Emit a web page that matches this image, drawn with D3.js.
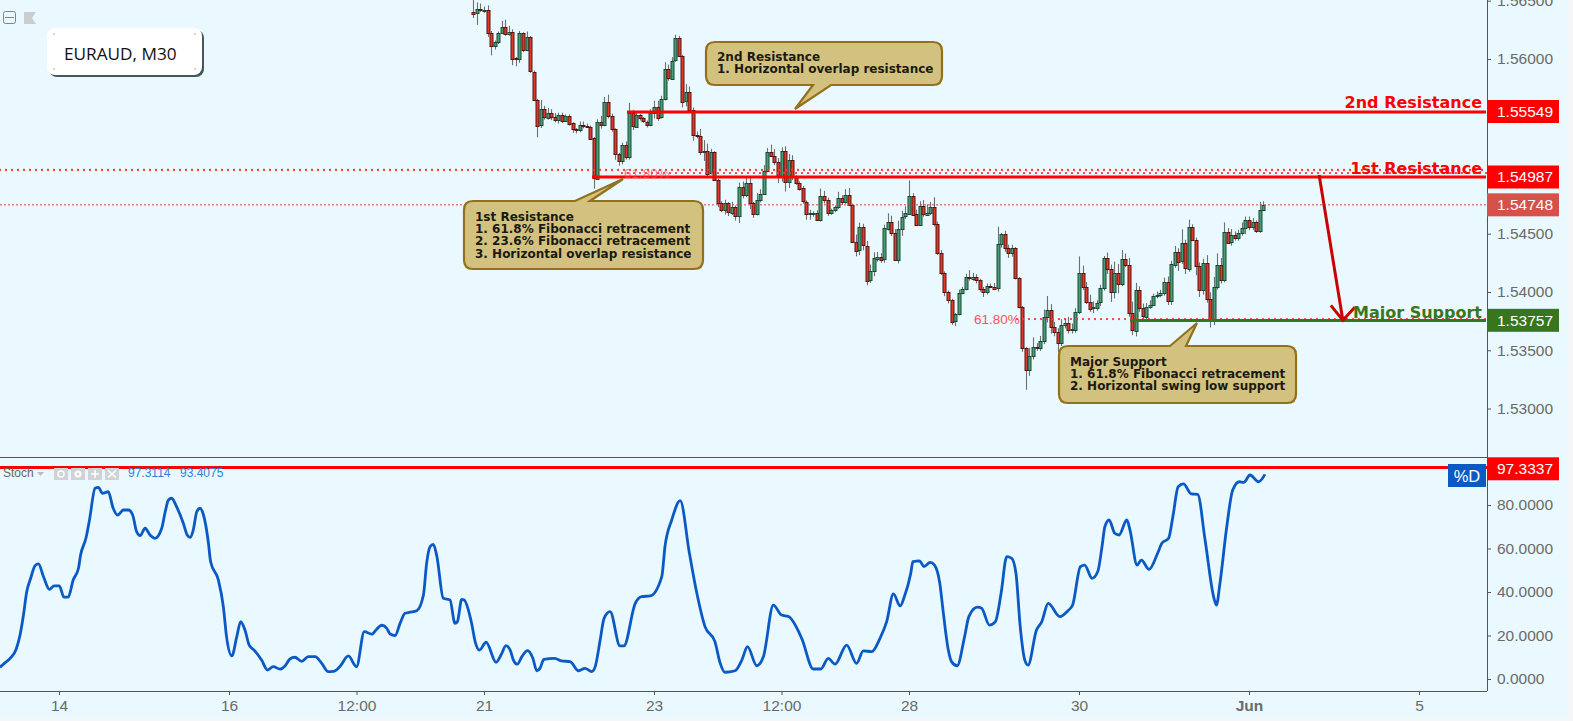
<!DOCTYPE html>
<html>
<head>
<meta charset="utf-8">
<script src="https://d3js.org/d3.v7.min.js"></script>
<style>
  html, body { margin: 0; padding: 0; background: #f4f6f7; overflow: hidden; }
  svg { display: block; }
  .axis text { font-family: "Liberation Sans", Arial, sans-serif; font-size: 15.5px; fill: #6a6a6a; }
  .axis path, .axis line { stroke: #555; }
  .note { font-family: "DejaVu Sans", sans-serif; font-size: 12px; font-weight: bold; fill: #1a1a12; }
  .levelName { font-family: "DejaVu Sans", sans-serif; font-size: 16px; font-weight: bold; text-anchor: end; }
  .tagText { font-family: "Liberation Sans", Arial, sans-serif; font-size: 15.5px; fill: #fff; dominant-baseline: central; }
</style>
</head>
<body>
<svg id="chart" width="1573" height="721"></svg>
<script>
// bars are M30, numbered from the "14" tick. first candle on screen is bar 117
const firstBar = 117;
const firstOpen = 1.56406;

const closes = [
  1.56392,1.56426,1.56414,1.56420,1.56220,1.56111,1.56149,1.56226,1.56277,1.56220,
  1.56234,1.56006,1.55997,1.56220,1.56077,1.56186,1.55891,1.55648,1.55428,1.55568,
  1.55499,1.55539,1.55505,1.55476,1.55519,1.55471,1.55514,1.55448,1.55396,1.55391,
  1.55433,1.55425,1.55419,1.55319,1.54976,1.55462,1.55433,1.55634,1.55511,1.55396,
  1.55185,1.55125,1.55262,1.55156,1.55534,1.55419,1.55519,1.55491,1.55462,1.55433,
  1.55539,1.55591,1.55499,1.55654,1.55912,1.55834,1.55986,1.56178,1.56026,1.55634,
  1.55714,1.55563,1.55348,1.55340,1.55205,1.55214,1.55019,1.55199,1.54962,1.54768,
  1.54705,1.54762,1.54682,1.54733,1.54653,1.54899,1.54833,1.54933,1.54762,1.54667,
  1.54790,1.54842,1.55039,1.55205,1.55168,1.55119,1.54996,1.55211,1.54942,1.55134,
  1.54991,1.54939,1.54890,1.54776,1.54670,1.54676,1.54682,1.54625,1.54828,1.54790,
  1.54682,1.54705,1.54733,1.54810,1.54776,1.54833,1.54748,1.54433,1.54356,1.54556,
  1.54399,1.54098,1.54176,1.54290,1.54304,1.54281,1.54547,1.54605,1.54510,1.54276,
  1.54542,1.54647,1.54676,1.54828,1.54667,1.54576,1.54739,1.54667,1.54682,1.54733,
  1.54584,1.54339,1.54167,1.54004,1.53932,1.53747,1.53809,1.53990,1.54024,1.54127,
  1.54118,1.54133,1.54104,1.54024,1.53998,1.54053,1.54047,1.54033,1.54410,1.54496,
  1.54376,1.54333,1.54376,1.54118,1.53870,1.53517,1.53331,1.53451,1.53531,1.53525,
  1.53583,1.53789,1.53846,1.53703,1.53660,1.53566,1.53717,1.53737,1.53674,1.53680,
  1.53831,1.54166,1.54046,1.53917,1.53860,1.53869,1.53909,1.54032,1.54289,1.54195,
  1.53995,1.54161,1.54069,1.54281,1.54232,1.53817,1.53669,1.54018,1.53860,1.53789,
  1.53875,1.53889,1.53966,1.53975,1.53989,1.54083,1.53918,1.54238,1.54346,1.54261,
  1.54418,1.54204,1.54561,1.54447,1.54224,1.54018,1.54246,1.53938,1.53746,1.54040,
  1.54232,1.54103,1.54518,1.54427,1.54490,1.54461,1.54504,1.54547,1.54618,1.54561,
  1.54604,1.54527,1.54704,1.54748
];

// wicks in pips above / below the body
const upWick = [
  10,6,5,3,4,2,1,1,5,6, 5,2,1,2,1,5,1,1,1,8, 3,4,3,3,2,2,1,1,1,1, 3,3,2,1,1,2,5,4,6,2,
  1,1,2,3,9,3,2,1,1,1, 3,5,5,3,6,4,3,3,2,1, 7,5,2,3,6,9,6,3,1,1, 1,3,1,4,1,4,5,6,6,1,
  6,4,5,3,6,6,3,3,4,5, 4,1,1,2,1,3,1,2,6,4, 2,1,1,5,2,5,6,1,6,4, 3,4,6,5,4,3,3,7,5,3,
  7,5,6,13,2,4,4,5,7,4, 8,2,2,1,1,1,1,3,2,3, 6,3,2,1,2,2,2,3,15,1, 3,3,3,1,1,1,1,7,8,3,
  4,6,12,5,4,3,5,4,5,5, 3,14,6,4,6,5,2,3,2,5, 4,10,8,8,5,6,10,6,3,4, 3,4,2,3,3,4,5,3,5,3,
  12,3,6,2,2,3,4,7,6,9, 10,6,8,3,5,3,3,5,3,3, 3,1,7,3
];
const downWick = [
  4,10,1,2,3,8,3,2,1,2, 2,6,6,3,2,1,1,1,10,2, 2,2,3,2,3,2,1,2,3,3, 2,2,1,1,9,1,3,1,2,2,
  5,4,3,2,2,3,1,2,1,2, 1,5,3,1,1,2,1,1,1,5, 4,2,5,2,3,8,3,1,1,4, 2,4,3,2,4,6,3,2,5,3,
  1,2,1,1,1,3,6,5,8,5, 3,2,2,2,5,5,3,1,2,3, 3,2,2,2,3,2,1,1,5,4, 4,4,2,4,3,3,3,2,3,1,
  3,6,2,1,1,1,1,2,1,2, 2,2,2,4,3,3,4,1,1,1, 2,2,3,2,4,2,1,1,3,3, 3,4,3,1,1,3,17,5,3,3,
  3,3,5,6,4,8,3,3,3,3, 3,2,3,2,3,4,3,3,2,4, 8,5,8,2,2,3,4,5,3,3, 2,2,1,2,2,2,3,3,3,8,
  2,5,3,1,8,6,4,3,5,3, 2,3,2,1,3,2,2,2,5,3, 3,2,2,1
];

// stochastic %D
const stochBars = [
  -16.7,-15.2,-13.8,-12.1,-11,-10.1,-9.1,-8,-6.8,-5.8,-4.4,-2.7,-1.4,0.1,1.4,2.6,4,5.5,6.1,7.6,
  8.6,10.2,11.1,12.3,13.9,15.3,16.5,18.2,19.6,20.8,21.9,22.9,24.3,25.7,27.1,29,29.9,30.9,31.8,33.2,
  35.1,36.2,37,37.9,38.9,39.8,40.8,42.2,42.8,45,46.4,47.3,48.8,50.2,51.3,52.5,53.7,55.1,57.2,58.9,
  60.5,62.4,63.8,65.2,66.6,68.5,70.4,72.3,74.2,76,77.5,79.3,81.7,84,86.2,88.3,89.7,91.1,92.5,93.5,
  94.9,96.3,97.7,99.1,101,102.9,103.8,104.8,105.7,106.7,108.5,110.4,111.8,112.5,113.7,114.4,116.5,117.5,118.7,120.6,
  123.4,124.8,126.2,127.4,128.3,129.4,130.7,132.3,133.8,134.9,135.8,136.9,140,141.9,144.3,146.7,148.5,150.4,151.4,152.8,
  153.9,155.6,158.4,159.5,162.7,164.5,166.9,170.2,171.1,173,175.4,178,180.1,182.4,185.2,186.7,188,190.9,192.8,194.4,
  197,198.9,201.7,204,206,209.7,213,215.1,217.2,219.1,222.4,225.2,227.1,229.5,231.8,233.7,235.6,237.5,238.7,240.5,
  241.1,243,244.2,246,247.2,248.7,249.6,251.1,252,253.6,255.7,256.9,259.3,260.5,262.7,264.4,266,267.6,269,270.2,
  271.4,272.7,273.6,276,277.5,279.3,282.6,284.8,286.2,288.4,289.6,291.7,293.3,294.5,295.3,296.5,298.1,299.3,301.5,302.4,
  304.4,305.6,307.8,310.2,311.4,313.3,314.5,316,317.5,319.7,321.5,323.6,326,326.8,327.8,329.6,331.4,333.3,334.5,336.3,
  338.7,340.5
];
const stochD = [
  5.4,7.5,9.5,13.7,20.2,28.7,40.2,46.3,52,52.9,47.1,41.2,42.8,42.8,37.6,37.6,45.5,50.9,57,64.7,
  73.1,87.7,88.1,85.4,86.1,78.5,75.4,77.7,77.7,75.4,67.8,65.9,69.3,66.2,64.7,69.3,76.2,82.3,83.1,79.2,
  71.6,66.2,65.1,68.5,76.9,78.5,75.4,62.4,54,45.5,33.3,19.5,10.6,19.5,26.4,22.5,15.6,13.3,8.7,4.1,
  5.7,4.5,6,9.2,10,8.1,10.3,10.3,7.2,3.4,3.5,5.7,10.6,5.7,21.8,20.6,22.9,24.7,23.4,20.7,
  20,25.6,30.2,30.7,31.4,38.6,53.2,60.9,61.9,56.3,37.1,36.3,25.6,26.4,36.6,36.3,25.6,17.2,13.3,16.9,
  7.7,11,15.3,13.3,8.7,6.8,10.3,13,9.5,3.8,4.9,9,9.5,8.3,8,3.8,4.9,3.4,5.7,17.9,
  27.9,31,15.2,15.2,34.8,37.9,38.2,47.1,60.9,73.1,82,57.8,39.4,24.1,17.2,7.2,3.1,3.8,8.7,14.9,
  6.1,10.3,34,29.4,28.7,18.7,4.6,4.6,9.5,6.8,15.6,7.2,12.9,12.6,18.7,26.4,39.1,33.6,37.9,48.6,
  54,54.3,51.7,53.6,52.4,44,31.7,13.3,8,6.1,19.5,28.7,33,32.5,24.8,26.4,39.4,56.3,55.5,48.6,
  24.1,8.7,6.4,22.5,26.4,34.8,28.7,31.3,34,51.7,52.4,46.3,49.4,60.9,70,73.1,67,66.2,73.1,68.5,
  52.4,54.7,50.4,57.8,62.4,64.7,74.6,88.4,89.7,85.1,84.9,63.9,37.9,34,44,68.5,86.9,90.7,90.4,93.8,
  90.7,94.1
];

const timeTickBars = [0, 48, 84, 120, 168, 204, 240, 288, 336, 384];
const timeTickLabels = ["14", "16", "12:00", "21", "23", "12:00", "28", "30", "Jun", "5"];
const priceTicks = [1.53, 1.535, 1.54, 1.545, 1.56, 1.565];
const stochTicks = [0, 20, 40, 60, 80];

const secondResistance = 1.55549;
const firstResistance = 1.54987;
const lastPrice = 1.54748;
const majorSupport = 1.53757;
const stochLevel = 97.3337;
const fibUpperA = 1.55047, fibUpperB = 1.55021, fibLower = 1.53768;

const w = 1487, topH = 457, bottomY = 691;
const cUp = "#4a9b78", cUpEdge = "#174a33", cDown = "#e0392b", cDownEdge = "#571410";

const svg = d3.select("#chart");
svg.append("rect").attr("width", 1568).attr("height", 718).attr("fill", "#e9f9ff");

const x = d3.scaleLinear().domain([-16.66, 403.2]).range([0, w]);
const yPrice = d3.scaleLinear().domain([1.52584, 1.56506]).range([topH, 0]);
const yStoch = d3.scaleLinear().domain([-5.52, 102.07]).range([bottomY, topH]);
const crisp = v => Math.round(v) + 0.5;

svg.append("defs").append("clipPath").attr("id", "plotClip")
  .append("rect").attr("width", w).attr("height", bottomY);

// candles
const bars = closes.map((c, i) => {
  const o = i === 0 ? firstOpen : closes[i - 1];
  return {
    i: firstBar + i, o: o, c: c,
    h: Math.max(o, c) + upWick[i] * 0.0001,
    l: Math.min(o, c) - downWick[i] * 0.0001
  };
});

const candleG = svg.append("g").attr("clip-path", "url(#plotClip)");
const candle = candleG.selectAll("g").data(bars).enter().append("g");
candle.append("line")
  .attr("x1", d => crisp(x(d.i))).attr("x2", d => crisp(x(d.i)))
  .attr("y1", d => yPrice(d.h)).attr("y2", d => yPrice(d.l))
  .attr("stroke", "#6f6f6f").attr("stroke-width", 1.1);
candle.append("rect")
  .attr("x", d => crisp(x(d.i)) - 1.5).attr("width", 3)
  .attr("y", d => crisp(yPrice(Math.max(d.o, d.c))))
  .attr("height", d => Math.max(1, Math.round(Math.abs(yPrice(d.o) - yPrice(d.c)))))
  .attr("fill", d => d.c >= d.o ? cUp : cDown)
  .attr("stroke", d => d.c >= d.o ? cUpEdge : cDownEdge)
  .attr("stroke-width", 1);

// level lines
const hline = (y, x1, x2, color, width, dash, cap) => svg.append("line")
  .attr("x1", x1).attr("x2", x2).attr("y1", y).attr("y2", y)
  .attr("stroke", color).attr("stroke-width", width)
  .attr("stroke-dasharray", dash || null)
  .attr("stroke-linecap", cap || null);

hline(yPrice(fibUpperA), 0, w, "#ff3333", 2.3, "0 6", "round");
hline(yPrice(fibUpperB), 622, w, "#ff3333", 2.3, "0 6", "round");
hline(yPrice(fibLower), 1017, w, "#ff3333", 2.3, "0 6", "round");
hline(yPrice(lastPrice), 0, w, "#c8453c", 1, "2 2");
hline(crisp(yPrice(secondResistance)) - 0.5, 627, 1486, "#ff0000", 3);
hline(crisp(yPrice(firstResistance)) - 0.5, 592, 1486, "#ff0000", 3);
hline(crisp(yPrice(majorSupport)), 1130, 1486, "#38761d", 3);
hline(crisp(yStoch(stochLevel)), 0, w, "#ff0000", 3);

const fibStyle = t => t.attr("fill", "#ff4f5e")
  .style("font-family", "'Liberation Sans', Arial, sans-serif").style("font-size", "13.5px")
  .attr("dominant-baseline", "central");
fibStyle(svg.append("text").attr("x", 624).attr("y", 173).attr("opacity", 0.75).text("61.80%"));
fibStyle(svg.append("text").attr("x", 974).attr("y", 319).text("61.80%"));

// trade arrow
const arrowX1 = x(355.8), arrowX2 = x(362.5);
const arrowY1 = yPrice(firstResistance) - 2, arrowY2 = yPrice(majorSupport);
svg.append("path")
  .attr("d", `M${arrowX1},${arrowY1}L${arrowX2},${arrowY2}M${arrowX2 - 12},${arrowY2 - 15}L${arrowX2},${arrowY2}L${arrowX2 + 12},${arrowY2 - 13}`)
  .attr("fill", "none").attr("stroke", "#cc0000").attr("stroke-width", 3);

// names above the levels
const levelName = (y, color, txt) => svg.append("text").attr("class", "levelName")
  .attr("x", 1482).attr("y", y).attr("fill", color).text(txt);
levelName(108, "#ff0000", "2nd Resistance");
levelName(174, "#ff0000", "1st Resistance");
levelName(318, "#38761d", "Major Support");

// callouts
function callout(l, t, r, b, base1, base2, tipX, tipY, lines, textY) {
  const rad = 9;
  svg.append("path")
    .attr("d", `M${l + rad},${t}` +
      (tipY < t ? `L${base1},${t}L${tipX},${tipY}L${base2},${t}` : "") +
      `L${r - rad},${t}Q${r},${t} ${r},${t + rad}L${r},${b - rad}Q${r},${b} ${r - rad},${b}` +
      (tipY > b ? `L${base2},${b}L${tipX},${tipY}L${base1},${b}` : "") +
      `L${l + rad},${b}Q${l},${b} ${l},${b - rad}L${l},${t + rad}Q${l},${t} ${l + rad},${t}Z`)
    .attr("fill", "#d3c27f").attr("stroke", "#93701c").attr("stroke-width", 2.2);
  lines.forEach((s, i) => svg.append("text").attr("class", "note")
    .attr("x", l + 11).attr("y", textY + i * 12.2).text(s));
}
callout(706, 42, 942, 85, 813, 831, 795, 109,
  ["2nd Resistance", "1. Horizontal overlap resistance"], 61);
callout(464, 201, 703, 269, 575, 590, 623, 179,
  ["1st Resistance", "1. 61.8% Fibonacci retracement", "2. 23.6% Fibonacci retracement", "3. Horizontal overlap resistance"], 221);
callout(1059, 346, 1296, 403, 1170, 1186, 1197, 323,
  ["Major Support", "1. 61.8% Fibonacci retracement", "2. Horizontal swing low support"], 366);

// stochastic
const stochLine = d3.line().x(d => x(d[0])).y(d => yStoch(d[1])).curve(d3.curveMonotoneX);
svg.append("path")
  .attr("d", stochLine(stochBars.map((b, i) => [b, stochD[i]])))
  .attr("clip-path", "url(#plotClip)")
  .attr("fill", "none").attr("stroke", "#0a59c4").attr("stroke-width", 2.8)
  .attr("stroke-linejoin", "round");

// axes
const priceAxis = d3.axisRight(yPrice).tickValues(priceTicks).tickFormat(d3.format(".5f")).tickSize(4).tickPadding(6);
svg.append("g").attr("class", "axis").attr("transform", `translate(${w},0)`).call(priceAxis)
  .call(g => g.select(".domain").remove());
const stochAxis = d3.axisRight(yStoch).tickValues(stochTicks).tickFormat(d3.format(".4f")).tickSize(4).tickPadding(6);
svg.append("g").attr("class", "axis").attr("transform", `translate(${w},0)`).call(stochAxis)
  .call(g => g.select(".domain").remove());
const timeAxis = d3.axisBottom(x).tickValues(timeTickBars).tickFormat((d, i) => timeTickLabels[i]).tickSize(4).tickPadding(5);
svg.append("g").attr("class", "axis").attr("transform", `translate(0,${bottomY})`).call(timeAxis)
  .call(g => g.select(".domain").remove())
  .selectAll("text").style("font-weight", (d, i) => timeTickLabels[i] === "Jun" ? "bold" : null);

svg.append("line").attr("x1", w + 0.5).attr("x2", w + 0.5).attr("y1", 0).attr("y2", bottomY).attr("stroke", "#555").attr("stroke-width", 1);
svg.append("line").attr("x1", 0).attr("x2", w).attr("y1", topH + 0.5).attr("y2", topH + 0.5).attr("stroke", "#555").attr("stroke-width", 1);
svg.append("line").attr("x1", 0).attr("x2", w).attr("y1", bottomY + 0.5).attr("y2", bottomY + 0.5).attr("stroke", "#555").attr("stroke-width", 1);

// price tags on the axis
const tag = (yc, color, txt) => {
  svg.append("rect").attr("x", w).attr("y", yc - 11.5).attr("width", 72).attr("height", 23).attr("fill", color);
  svg.append("text").attr("class", "tagText").attr("x", w + 10).attr("y", yc).text(txt);
};
tag(yPrice(secondResistance), "#ff0000", "1.55549");
tag(yPrice(firstResistance), "#ff0000", "1.54987");
tag(yPrice(lastPrice), "#d4524a", "1.54748");
tag(yPrice(majorSupport), "#38761d", "1.53757");
tag(yStoch(stochLevel) + 1.5, "#ff0000", "97.3337");
svg.append("rect").attr("x", 1448).attr("y", 464).attr("width", 38).attr("height", 23).attr("fill", "#0a59c4");
svg.append("text").attr("class", "tagText").attr("x", 1467).attr("y", 475.5).attr("text-anchor", "middle")
  .style("font-size", "16.5px").text("%D");

// symbol box
svg.append("rect").attr("x", 49).attr("y", 30).attr("width", 155).attr("height", 47).attr("rx", 8).attr("fill", "#2b3a3f").attr("opacity", 0.85);
svg.append("rect").attr("x", 47).attr("y", 28).attr("width", 155).attr("height", 47).attr("rx", 8).attr("fill", "#fff");
svg.append("text").attr("x", 64).attr("y", 53).attr("dominant-baseline", "central").attr("fill", "#111")
  .style("font-family", "'Open Sans', sans-serif").style("font-size", "17.2px").text("EURAUD, M30");
[[54, 34], [195, 34], [54, 69], [195, 69]].forEach(p => svg.append("circle")
  .attr("cx", p[0]).attr("cy", p[1]).attr("r", 1).attr("fill", "#c8c8c8"));

// little toolbar bits top left
svg.append("rect").attr("x", 3.5).attr("y", 11.5).attr("width", 12).attr("height", 12).attr("rx", 2).attr("fill", "none").attr("stroke", "#7b868c");
svg.append("line").attr("x1", 5).attr("x2", 14).attr("y1", 17.5).attr("y2", 17.5).attr("stroke", "#7b868c");
svg.append("path").attr("d", "M24,12H36L32,18L36,24H24Z").attr("fill", "#c9cdd0");

// stochastic header
const header = (xp, txt, color) => svg.append("text").attr("x", xp).attr("y", 477)
  .attr("fill", color).style("font-family", "'Liberation Sans', Arial, sans-serif").style("font-size", "12px").text(txt);
header(3, "Stoch", "#666");
svg.append("path").attr("d", "M37,472H44L40.5,476Z").attr("fill", "#bbb");
[54, 71, 88, 105].forEach(xp => svg.append("rect").attr("x", xp).attr("y", 468).attr("width", 14).attr("height", 12).attr("fill", "#d0d3d5"));
svg.append("circle").attr("cx", 61).attr("cy", 474).attr("r", 3).attr("fill", "none").attr("stroke", "#fff").attr("stroke-width", 1.5);
svg.append("circle").attr("cx", 78).attr("cy", 474).attr("r", 2.5).attr("fill", "none").attr("stroke", "#fff").attr("stroke-width", 2);
svg.append("path").attr("d", "M91,474H99M95,470V478M108,470.5L116,477.5M116,470.5L108,477.5").attr("stroke", "#fff").attr("stroke-width", 1.6);
header(128, "97.3114", "#2f7fd6");
header(180, "93.4075", "#2f7fd6");
</script>
</body>
</html>
